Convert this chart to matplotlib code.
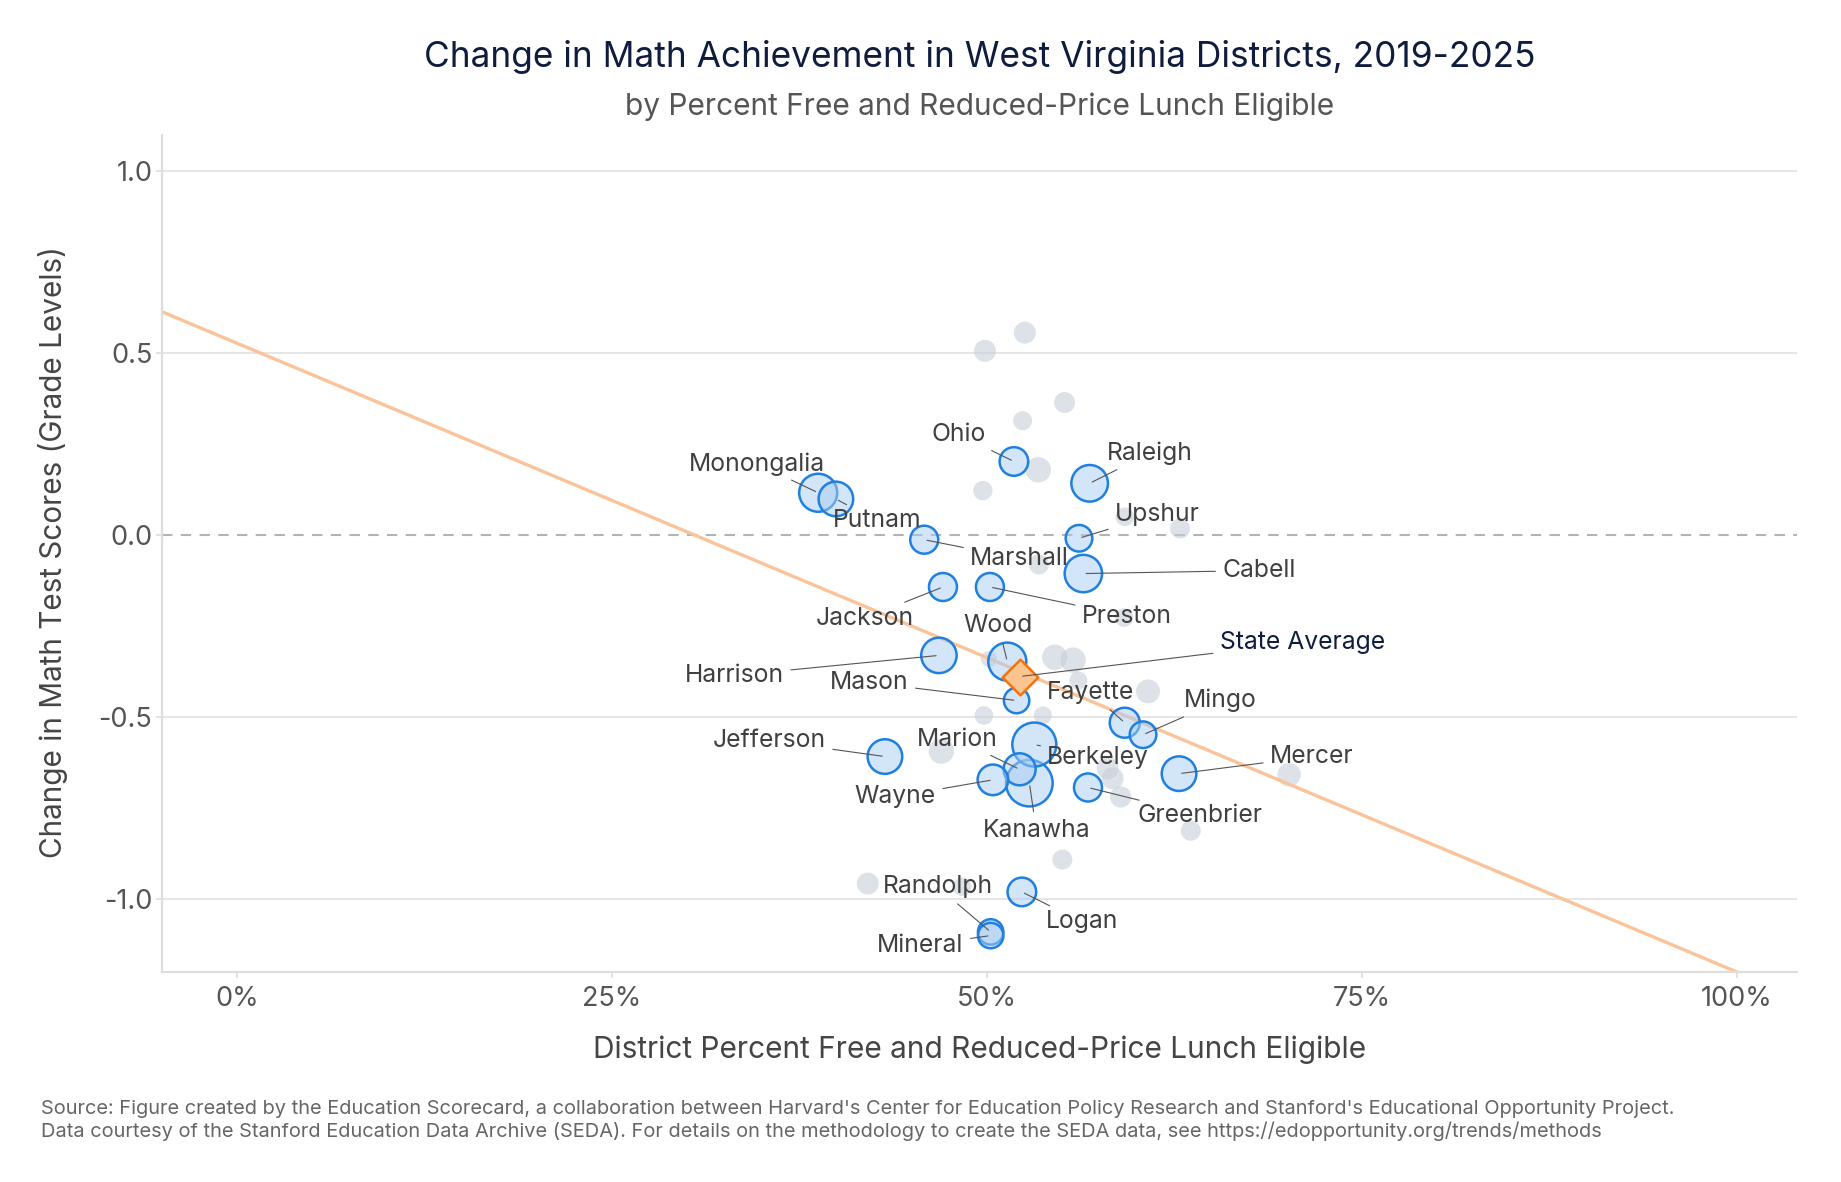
import matplotlib
matplotlib.use("Agg")
import matplotlib.pyplot as plt
from matplotlib.ticker import FuncFormatter

plt.rcParams['font.family'] = ['Inter', 'DejaVu Sans']
plt.rcParams['axes.unicode_minus'] = False

# labelled districts: percent FRL eligible, change in grade levels, bubble radius (px)
names = ['Ohio', 'Raleigh', 'Monongalia', 'Putnam', 'Marshall', 'Upshur', 'Cabell',
         'Jackson', 'Preston', 'Harrison', 'Wood', 'Mason', 'Fayette', 'Mingo',
         'Berkeley', 'Jefferson', 'Marion', 'Wayne', 'Kanawha', 'Greenbrier',
         'Mercer', 'Logan', 'Randolph', 'Mineral']
frl = [51.80, 56.85, 38.75, 39.93, 45.82, 56.14, 56.43,
       47.07, 50.20, 46.80, 51.36, 51.98, 59.19, 60.41,
       53.16, 43.20, 52.18, 50.40, 52.83, 56.74,
       62.81, 52.33, 50.25, 50.25]
change = [0.203, 0.143, 0.117, 0.100, -0.012, -0.008, -0.105,
          -0.142, -0.142, -0.330, -0.347, -0.454, -0.515, -0.548,
          -0.575, -0.608, -0.643, -0.672, -0.681, -0.693,
          -0.655, -0.980, -1.090, -1.100]
bubble = [14.3, 18.3, 19.0, 17.3, 14.0, 13.3, 18.7,
          14.0, 14.0, 17.7, 19.0, 12.7, 15.0, 13.3,
          22.0, 17.3, 16.0, 15.3, 23.3, 14.0,
          17.3, 14.3, 12.7, 12.7]

# unlabelled districts
other_frl = [49.87, 52.53, 55.18, 52.38, 53.43, 49.73, 59.19, 62.88, 53.47, 59.14,
             50.13, 54.52, 55.74, 56.10, 60.74, 49.80, 53.73, 46.96, 58.05, 58.38,
             58.92, 70.15, 63.59, 55.03, 42.06, 48.36]
other_change = [0.507, 0.557, 0.365, 0.315, 0.180, 0.123, 0.051, 0.019, -0.080, -0.226,
                -0.340, -0.335, -0.343, -0.399, -0.429, -0.495, -0.495, -0.593, -0.640, -0.668,
                -0.719, -0.658, -0.812, -0.891, -0.957, -0.966]
other_bubble = [11, 11, 10.5, 9.5, 12.7, 9.7, 9.3, 10, 10, 9.3,
                8, 12.7, 12.7, 9, 12, 9.3, 9, 12.7, 11, 11,
                10.7, 11.7, 10, 10, 11, 9.3]

state_frl = 52.20
state_change = -0.388

fit_intercept = 0.528
fit_slope = -0.01728

# label placement: alignment, offset in pixels from the point
label_pos = {
    'Ohio': ('right', -28, 27), 'Raleigh': ('left', 17, 30),
    'Monongalia': ('center', -61, 29), 'Putnam': ('center', 41, -22),
    'Marshall': ('left', 46, -19), 'Upshur': ('left', 36, 24),
    'Cabell': ('left', 139, 3), 'Jackson': ('right', -29, -31),
    'Preston': ('left', 92, -29), 'Harrison': ('right', -155, -20),
    'Wood': ('center', -9, 36), 'Mason': ('right', -108, 18),
    'Fayette': ('center', -34, 30), 'Mingo': ('left', 41, 34),
    'Berkeley': ('left', 13, -13), 'Jefferson': ('right', -59, 16),
    'Marion': ('right', -22, 30), 'Wayne': ('right', -57, -17),
    'Kanawha': ('center', 7, -47), 'Greenbrier': ('left', 50, -28),
    'Mercer': ('left', 91, 17), 'Logan': ('left', 24, -30),
    'Randolph': ('center', -53, 45), 'Mineral': ('right', -27, -10),
}


def area(r):
    # radius in px (dpi 100) -> scatter area in pt^2
    return (2 * r * 0.72) ** 2


fig = plt.figure(figsize=(18.41, 11.82), dpi=100)
ax = fig.add_axes([0.088, 0.1777, 0.888, 0.708])

ax.set_xlim(-5, 104)
ax.set_ylim(-1.2, 1.1)

for yv in [-1.0, -0.5, 0.5, 1.0]:
    ax.axhline(yv, color='#e4e4e4', lw=1.3, zorder=0)
ax.axhline(0, color='#b3b3b3', lw=1.5, ls=(0, (5, 4)), zorder=0.5)

ax.scatter(other_frl, other_change, s=[area(r) for r in other_bubble],
           color=(0.78, 0.81, 0.85, 0.6), edgecolors='none', zorder=1)

fx = [-5, 104]
ax.plot(fx, [fit_intercept + fit_slope * v for v in fx], color='#fbc399', lw=2.4, zorder=2)

order = sorted(range(len(names)), key=lambda i: -bubble[i])
ax.scatter([frl[i] for i in order], [change[i] for i in order],
           s=[area(bubble[i]) for i in order],
           facecolors=[(0.66, 0.80, 0.95, 0.5)] * len(order),
           edgecolors='#1f80e0', linewidths=1.8, zorder=3)

ax.scatter([state_frl], [state_change], marker='D', s=330, facecolor='#fcc48f',
           edgecolor='#f07414', linewidths=1.8, zorder=5)

for i, name in enumerate(names):
    ha, dx, dy = label_pos[name]
    ax.annotate(name, xy=(frl[i], change[i]), xytext=(dx, dy), textcoords='offset pixels',
                ha=ha, va='center', fontsize=17.8, color='#404040', zorder=6,
                arrowprops=dict(arrowstyle='-', color='#555555', lw=0.8, shrinkA=3, shrinkB=2))

ax.annotate('State Average', xy=(state_frl, state_change), xytext=(200, 34),
            textcoords='offset pixels', ha='left', va='center', fontsize=17.8, color='#0f1c3d',
            zorder=6, arrowprops=dict(arrowstyle='-', color='#555555', lw=0.8, shrinkA=3, shrinkB=2))

for side in ['top', 'right']:
    ax.spines[side].set_visible(False)
for side in ['left', 'bottom']:
    ax.spines[side].set_color('#dddddd')
    ax.spines[side].set_linewidth(1.6)

ax.set_xticks([0, 25, 50, 75, 100])
ax.xaxis.set_major_formatter(FuncFormatter(lambda v, p: f'{v:.0f}%'))
ax.set_yticks([-1.0, -0.5, 0.0, 0.5, 1.0])
ax.yaxis.set_major_formatter(FuncFormatter(lambda v, p: f'{v:.1f}'))
ax.tick_params(axis='both', colors='#dddddd', labelcolor='#555555', labelsize=19.5, length=4, width=1.2)
ax.tick_params(axis='y', pad=3)
ax.tick_params(axis='x', pad=6)

fig.text(0.532, 1 - 57.5 / 1182, 'Change in Math Achievement in West Virginia Districts, 2019-2025',
         ha='center', va='center', fontsize=25.4, color='#0f1c3d')
fig.text(0.532, 1 - 107 / 1182, 'by Percent Free and Reduced-Price Lunch Eligible',
         ha='center', va='center', fontsize=21.5, color='#555555')
fig.text(0.532, 1 - 1050 / 1182, 'District Percent Free and Reduced-Price Lunch Eligible',
         ha='center', va='center', fontsize=21.5, color='#454545')
fig.text(53 / 1841, 1 - 552 / 1182, 'Change in Math Test Scores (Grade Levels)',
         ha='center', va='center', rotation=90, fontsize=21.4, color='#454545')

fig.text(41 / 1841, 1 - 1108.5 / 1182,
         "Source: Figure created by the Education Scorecard, a collaboration between Harvard's Center for "
         "Education Policy Research and Stanford's Educational Opportunity Project.",
         ha='left', va='center', fontsize=14.4, color='#666666')
fig.text(41 / 1841, 1 - 1131.5 / 1182,
         "Data courtesy of the Stanford Education Data Archive (SEDA). For details on the methodology "
         "to create the SEDA data, see https://edopportunity.org/trends/methods",
         ha='left', va='center', fontsize=14.4, color='#666666')

fig.savefig('out.png', dpi=100)
